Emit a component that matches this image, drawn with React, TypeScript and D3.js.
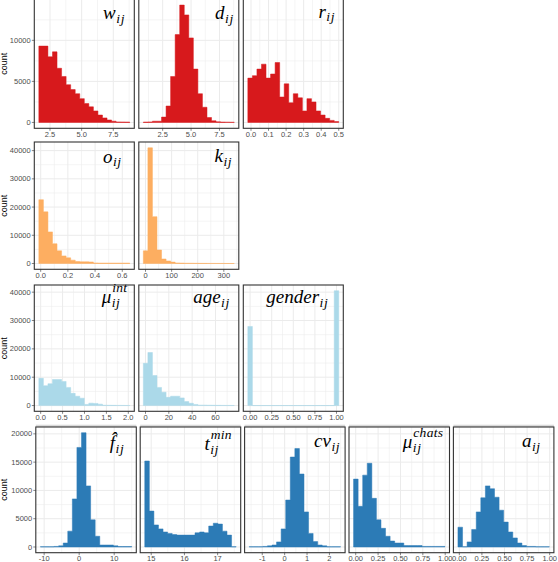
import React, { useLayoutEffect, useRef, useState } from "react";
import * as d3 from "d3";

const W = 558;
const H = 562;

// ---------- Data (counts per bin, 20 bins each) ----------
// Row 1 (red)
const wCounts = [9300, 9300, 8000, 8600, 6600, 5600, 4600, 4000, 3500, 2900, 2300, 1900, 1400, 900, 550, 300, 150, 60, 50, 40];
const wRange = [1.62, 8.8];
const wTicks = ["2.5", "5.0", "7.5"];

const dCounts = [40, 60, 150, 150, 650, 2000, 5600, 10700, 14300, 13100, 10300, 6500, 3500, 1850, 600, 200, 70, 40, 30, 20];
const dRange = [0.8, 8.8];
const dTicks = ["2.5", "5.0", "7.5"];

const rCounts = [5400, 5700, 6500, 7100, 5400, 5900, 7300, 3100, 4700, 2400, 3500, 3000, 1400, 2900, 2500, 1400, 900, 500, 250, 100];
const rRange = [-0.018, 0.5];
const rTicks = ["0.0", "0.1", "0.2", "0.3", "0.4", "0.5"];

// Row 2 (orange)
const oCounts = [22600, 18300, 11200, 7000, 4500, 2700, 2000, 1200, 700, 600, 600, 550, 200, 150, 150, 150, 150, 150, 150, 150];
const oRange = [-0.0136, 0.655];
const oTicks = ["0.0", "0.2", "0.4", "0.6"];

const kCounts = [4500, 41000, 16600, 4800, 1600, 900, 500, 200, 150, 100, 100, 80, 60, 50, 40, 40, 30, 30, 20, 20];
const kRange = [-8.3, 340];
const kTicks = ["0", "100", "200", "300"];

// Row 3 (light blue)
const muIntCounts = [9600, 7000, 7700, 9200, 9200, 8500, 6400, 4300, 3300, 2600, 400, 850, 750, 500, 120, 100, 80, 60, 50, 40];
const muIntRange = [-0.042, 2.033];
const muIntTicks = ["0.0", "0.5", "1.0", "1.5", "2.0"];

const ageCounts = [14900, 18700, 10600, 6400, 4700, 2900, 3300, 3300, 2700, 1400, 800, 400, 150, 150, 120, 100, 80, 60, 50, 40];
const ageRange = [-1.85, 76.1];
const ageTicks = ["0", "20", "40", "60"];

const genderCounts = [27900, 0, 0, 0, 0, 0, 0, 0, 0, 0, 0, 0, 0, 0, 0, 0, 0, 0, 0, 40500];
const genderRange = [-0.0263, 1.0263];
const genderTicks = ["0.00", "0.25", "0.50", "0.75", "1.00"];

// Row 4 (blue)
const fCounts = [50, 50, 50, 100, 200, 700, 2800, 8500, 17600, 20200, 10800, 4800, 1900, 350, 350, 350, 200, 70, 70, 70];
const fRange = [-11.08, 15.0];
const fTicks = ["-10", "0", "10"];

const tCounts = [15200, 6350, 3900, 3200, 2650, 2400, 2200, 2100, 2100, 2100, 2100, 2500, 2650, 2500, 3700, 4200, 4050, 2800, 2100, 50];
const tRange = [14.806, 17.557];
const tTicks = ["15", "16", "17"];

const cvCounts = [50, 50, 50, 100, 200, 350, 900, 3200, 8300, 15900, 17400, 12900, 6200, 2400, 950, 350, 200, 50, 50, 50];
const cvRange = [-1.585, 2.496];
const cvTicks = ["-1", "0", "1", "2"];

const muChatsCounts = [12000, 7200, 12700, 14800, 8600, 4800, 3300, 1900, 1050, 700, 700, 250, 250, 250, 250, 100, 100, 100, 100, 100];
const muChatsRange = [-0.024, 0.997];
const muChatsTicks = ["0.00", "0.25", "0.50", "0.75", "1.00"];

const aCounts = [3500, 50, 900, 3100, 6200, 8700, 10800, 10300, 8800, 6500, 4400, 2650, 1600, 700, 250, 100, 100, 50, 50, 50];
const aRange = [-0.015, 0.996];
const aTicks = ["0.00", "0.25", "0.50", "0.75", "1.00"];

// Row settings
const rowColors = ["#d7191c", "#fdae61", "#abd9e9", "#2c7bb6"];
const rowYTicks = [
  [0, 5000, 10000],
  [0, 10000, 20000, 30000, 40000],
  [0, 10000, 20000, 30000, 40000],
  [0, 5000, 10000, 15000, 20000],
];

type MathText = { base: string; sub?: string; sup?: string };
type PanelDef = { counts: number[]; range: number[]; ticks: string[]; label: MathText };

const rowsData: PanelDef[][] = [
  [
    { counts: wCounts, range: wRange, ticks: wTicks, label: { base: "w", sub: "ij" } },
    { counts: dCounts, range: dRange, ticks: dTicks, label: { base: "d", sub: "ij" } },
    { counts: rCounts, range: rRange, ticks: rTicks, label: { base: "r", sub: "ij" } },
  ],
  [
    { counts: oCounts, range: oRange, ticks: oTicks, label: { base: "o", sub: "ij" } },
    { counts: kCounts, range: kRange, ticks: kTicks, label: { base: "k", sub: "ij" } },
  ],
  [
    { counts: muIntCounts, range: muIntRange, ticks: muIntTicks, label: { base: "μ", sub: "ij", sup: "int" } },
    { counts: ageCounts, range: ageRange, ticks: ageTicks, label: { base: "age", sub: "ij" } },
    { counts: genderCounts, range: genderRange, ticks: genderTicks, label: { base: "gender", sub: "ij" } },
  ],
  [
    { counts: fCounts, range: fRange, ticks: fTicks, label: { base: "f\u0302", sub: "ij" } },
    { counts: tCounts, range: tRange, ticks: tTicks, label: { base: "t", sub: "ij", sup: "min" } },
    { counts: cvCounts, range: cvRange, ticks: cvTicks, label: { base: "cv", sub: "ij" } },
    { counts: muChatsCounts, range: muChatsRange, ticks: muChatsTicks, label: { base: "μ", sub: "ij", sup: "chats" } },
    { counts: aCounts, range: aRange, ticks: aTicks, label: { base: "a", sub: "ij" } },
  ],
];

// ---------- Layout ----------
const rowLayout = [
  { top: -0.8, bottom: 128.3, left: 34.3, pitch: 104.5, width: 100, strip: false },
  { top: 142, bottom: 269.3, left: 34.3, pitch: 104.5, width: 100, strip: false },
  { top: 285, bottom: 411.3, left: 34.3, pitch: 104.5, width: 100, strip: false },
  { top: 427, bottom: 552.7, left: 35.8, pitch: 104.4, width: 100.5, strip: true },
];
// label placement: [offset of right edge from panel right, baseline from panel top]
const labelPos = [
  [[9.3, 19.8], [5, 19.8], [8.3, 18.3]],
  [[12.6, 20.7], [6.6, 20]],
  [[6, 18], [9, 18], [15, 18]],
  [[12, 22], [8.8, 23], [5, 20], [6.2, 21], [13.3, 20]],
];

const TICK_FONT = "'Liberation Sans', Arial, Helvetica, sans-serif";
const LABEL_FONT = "'Liberation Serif', 'DejaVu Serif', serif";

function MathLabel({ right, baseline, t }: { right: number; baseline: number; t: MathText }) {
  const gRef = useRef<SVGGElement>(null);
  const baseRef = useRef<SVGTextElement>(null);
  const [bw, setBw] = useState<number | null>(null);
  const [ext, setExt] = useState<number | null>(null);
  useLayoutEffect(() => {
    if (baseRef.current) setBw(baseRef.current.getComputedTextLength());
  }, []);
  useLayoutEffect(() => {
    if (bw != null && gRef.current) {
      const b = gRef.current.getBBox();
      setExt(b.x + b.width);
    }
  }, [bw]);
  const sx = (bw ?? 0) + 0.5;
  const tx = ext == null ? right : right - ext;
  return (
    <g
      ref={gRef}
      transform={`translate(${tx},${baseline})`}
      fontFamily={LABEL_FONT}
      fontStyle="italic"
      fill="#000"
      visibility={ext == null ? "hidden" : "visible"}
    >
      <text ref={baseRef} fontSize={19}>
        {t.base}
      </text>
      {t.sub ? (
        <text x={sx} y={3.5} fontSize={13.5} letterSpacing={0.6}>
          {t.sub}
        </text>
      ) : null}
      {t.sup ? (
        <text x={sx + 0.5} y={-11} fontSize={13.5} letterSpacing={0.3}>
          {t.sup}
        </text>
      ) : null}
    </g>
  );
}

function minorBetween(major: number[], lo: number, hi: number) {
  const step = major[1] - major[0];
  const out: number[] = [];
  for (let v = major[0] - step / 2; v <= major[major.length - 1] + step / 2 + 1e-9; v += step) {
    if (v >= lo && v <= hi) out.push(v);
  }
  return out;
}

function Panel({
  def,
  L,
  R,
  top,
  bottom,
  yScale,
  yMajor,
  color,
  lp,
}: {
  def: PanelDef;
  L: number;
  R: number;
  top: number;
  bottom: number;
  yScale: d3.ScaleLinear<number, number>;
  yMajor: number[];
  color: string;
  lp: number[];
}) {
  const [x0, x1] = def.range;
  const ex = (x1 - x0) * 0.05;
  const x = d3.scaleLinear().domain([x0 - ex, x1 + ex]).range([L, R]);
  const n = def.counts.length;
  const bw = (x1 - x0) / n;
  const tickVals = def.ticks.map((s) => Number(s));
  const xd = x.domain();
  const xMinor = minorBetween(tickVals, xd[0], xd[1]);
  const yd = yScale.domain();
  const yMinor = minorBetween(yMajor, yd[0], yd[1]);
  const y0 = yScale(0);
  // one continuous outline for all bars (no seams between adjacent bins)
  const path = d3.path();
  path.moveTo(x(x0), y0);
  def.counts.forEach((c, i) => {
    path.lineTo(x(x0 + i * bw), yScale(c));
    path.lineTo(x(x0 + (i + 1) * bw), yScale(c));
  });
  path.lineTo(x(x1), y0);
  path.closePath();
  return (
    <g>
      <rect x={L} y={top} width={R - L} height={bottom - top} fill="#fff" />
      {xMinor.map((v, i) => (
        <line key={"xm" + i} x1={x(v)} x2={x(v)} y1={top} y2={bottom} stroke="#ebebeb" strokeWidth={0.55} />
      ))}
      {yMinor.map((v, i) => (
        <line key={"ym" + i} x1={L} x2={R} y1={yScale(v)} y2={yScale(v)} stroke="#ebebeb" strokeWidth={0.55} />
      ))}
      {tickVals.map((v, i) => (
        <line key={"xM" + i} x1={x(v)} x2={x(v)} y1={top} y2={bottom} stroke="#ebebeb" strokeWidth={1} />
      ))}
      {yMajor.map((v, i) => (
        <line key={"yM" + i} x1={L} x2={R} y1={yScale(v)} y2={yScale(v)} stroke="#ebebeb" strokeWidth={1} />
      ))}
      <path d={path.toString()} fill={color} stroke={color} strokeWidth={0.5} strokeLinejoin="miter" />
      <rect x={L} y={top} width={R - L} height={bottom - top} fill="none" stroke="#333333" strokeWidth={1.1} />
      {tickVals.map((v, i) => (
        <g key={"xt" + i}>
          <line x1={x(v)} x2={x(v)} y1={bottom} y2={bottom + 2.5} stroke="#333333" strokeWidth={0.6} />
          <text
            x={x(v)}
            y={bottom + 8.2}
            textAnchor="middle"
            fontFamily={TICK_FONT}
            fontSize={7.5}
            fill="#4d4d4d"
          >
            {def.ticks[i]}
          </text>
        </g>
      ))}
      <MathLabel right={R - lp[0]} baseline={top + lp[1]} t={def.label} />
    </g>
  );
}

export default function App() {
  return (
    <svg
      width={W}
      height={H}
      viewBox={`0 0 ${W} ${H}`}
      style={{ position: "absolute", left: 0, top: 0, background: "#fff" }}
    >
      <rect x={0} y={0} width={W} height={H} fill="#fff" />
      {rowsData.map((panels, ri) => {
        const lay = rowLayout[ri];
        const ymax = d3.max(panels, (p) => d3.max(p.counts) as number) as number;
        const yScale = d3
          .scaleLinear()
          .domain([-0.05 * ymax, 1.05 * ymax])
          .range([lay.bottom, lay.top]);
        const yMajor = rowYTicks[ri];
        const firstL = lay.left;
        return (
          <g key={"row" + ri}>
            {panels.map((p, pi) => {
              const L = lay.left + pi * lay.pitch;
              const R = L + lay.width;
              return (
                <g key={"p" + pi}>
                  {lay.strip ? (
                    <rect x={L} y={lay.top - 2.3} width={R - L} height={2.3} fill="#d9d9d9" />
                  ) : null}
                  <Panel
                    def={p}
                    L={L}
                    R={R}
                    top={lay.top}
                    bottom={lay.bottom}
                    yScale={yScale}
                    yMajor={yMajor}
                    color={rowColors[ri]}
                    lp={labelPos[ri][pi]}
                  />
                </g>
              );
            })}
            {yMajor.map((v, i) => (
              <g key={"yt" + i}>
                <line
                  x1={firstL - 2.5}
                  x2={firstL}
                  y1={yScale(v)}
                  y2={yScale(v)}
                  stroke="#333333"
                  strokeWidth={0.6}
                />
                <text
                  x={firstL - 3.6}
                  y={yScale(v)}
                  dy="0.35em"
                  textAnchor="end"
                  fontFamily={TICK_FONT}
                  fontSize={7.5}
                  fill="#4d4d4d"
                >
                  {v}
                </text>
              </g>
            ))}
            <text
              transform={`translate(7,${(lay.top + lay.bottom) / 2}) rotate(-90)`}
              textAnchor="middle"
              fontFamily={TICK_FONT}
              fontSize={9}
              fill="#000"
            >
              count
            </text>
          </g>
        );
      })}
    </svg>
  );
}
